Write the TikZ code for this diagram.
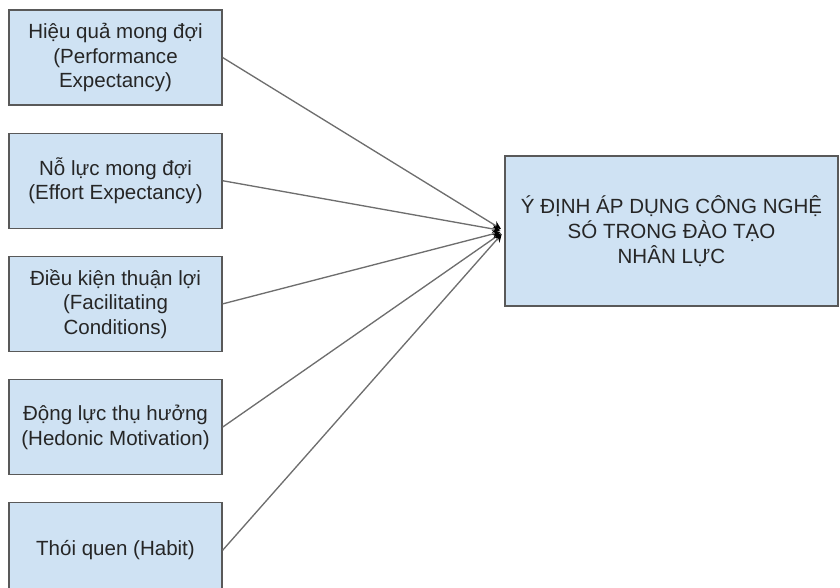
\documentclass[tikz,border=0pt]{standalone}
\usepackage{fontspec}
\setmainfont{Liberation Sans}
\usepackage{xcolor}
\usepackage{tikz}
\usetikzlibrary{positioning, arrows.meta}
\definecolor{boxfill}{HTML}{CFE2F3}
\definecolor{boxline}{HTML}{595959}
\definecolor{edgeline}{HTML}{6E6E6E}
\tikzset{
	>={Stealth[length=6pt, width=6pt, black]}, % dark heads meeting at the big box
	node distance=20.25pt, % gap between the left boxes
	factor/.style={draw=boxline, fill=boxfill, line width=0.9pt, minimum width=159.75pt, minimum height=71.25pt, align=center, text=black!85, font=\fontsize{15.4}{18.5}\selectfont}, % every left box
	intention/.style={factor, minimum width=249.75pt, minimum height=112.5pt}, % the box on the right
	link/.style={draw=edgeline, line width=1pt, shorten >=3pt}, % every connector
}

\begin{document}
\begin{tikzpicture}[x=0.75pt, y=-0.75pt]
				\useasboundingbox (0,0) rectangle (840,587);
				\clip (0,0) rectangle (840,587);
				% Factors
				\node[factor] (pe) at (115.5,57.5) {Hiệu quả mong đợi\\(Performance\\Expectancy)};
				\node[factor, below=of pe] (ee) {Nỗ lực mong đợi\\(Effort Expectancy)};
				\node[factor, below=of ee] (fc) {Điều kiện thuận lợi\\(Facilitating\\Conditions)};
				\node[factor, below=of fc] (hm) {Động lực thụ hưởng\\(Hedonic Motivation)};
				\node[factor, below=of hm] (ht) {Thói quen (Habit)};
				\node[intention] (bi) at (671.5,231) {Ý ĐỊNH ÁP DỤNG CÔNG NGHỆ\\SÓ TRONG ĐÀO TẠO\\NHÂN LỰC};
				
				% Links
				\path[every edge/.append style={link, ->}]
				(pe.east) edge (bi.west)
				(ee.east) edge (bi.west)
				(fc.east) edge (bi.west)
				(hm.east) edge (bi.west)
				(ht.east) edge (bi.west);
			\end{tikzpicture}
\end{document}
